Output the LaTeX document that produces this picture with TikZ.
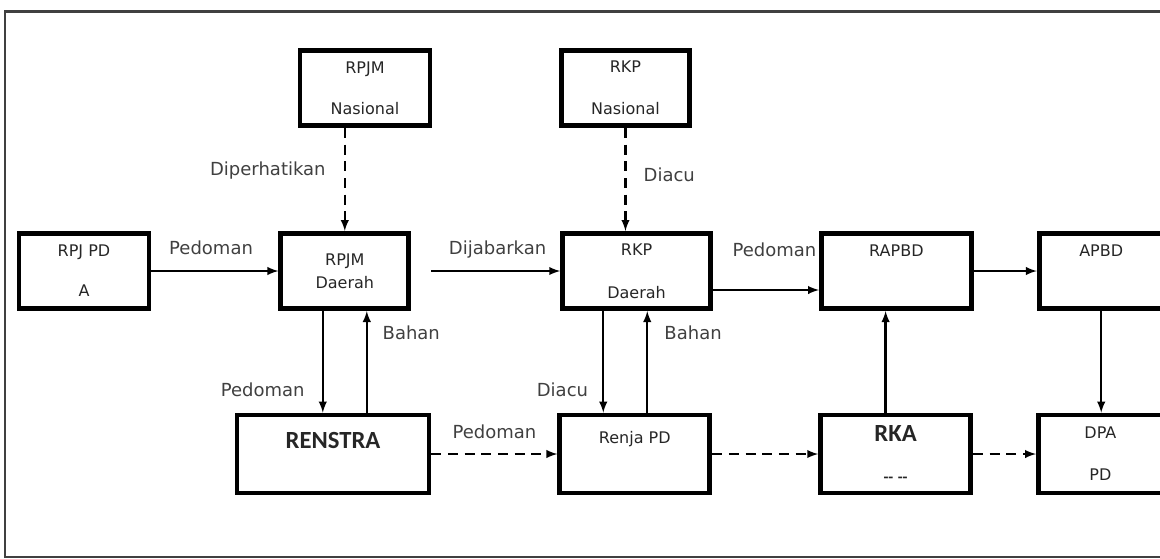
\documentclass[tikz,border=0pt]{standalone}
\usepackage{fontspec}
\setmainfont{DejaVu Sans}
\newfontfamily\calibrifont{Carlito}
\usetikzlibrary{positioning}

\begin{document}
\begin{tikzpicture}
  [x=0.75pt, y=-0.75pt,
  box/.style={
    draw,
    line width=3.6pt,
    minimum height=56.5pt,
    inner sep=0pt,
    text=black!85,
    font=\fontsize{12}{14.4}\selectfont
    },
  bigbox/.style={
    box,
    font=\calibrifont\bfseries\fontsize{18.5}{22}\selectfont
    },
  link/.style={-latex, line width=1.8pt},
  dlink/.style={link, dash pattern=on 7.5pt off 5pt},
  lbl/.style={
    font=\fontsize{13.5}{16}\selectfont,
    text=black!75,
    inner sep=0pt,
    text height=10pt,
    text depth=3pt
    }
  ]
  \useasboundingbox (0,0) rectangle (1160,558);
  \draw[line width=2.2pt, black!75] (5,11.5) rectangle (1185,557);

  % NASIONAL
  \node[box, minimum width=97.5pt, align=center] (rpjmn) at (365,88) {RPJM\\[16.5pt]Nasional};
  \node[box, minimum width=95.5pt, align=center, right=95.25pt of rpjmn] (rkpn) {RKP\\[17pt]Nasional};

  % DAERAH
  \node[box, minimum width=97.5pt, align=center] (rpjpd) at (84,271) {RPJ PD\\[15.5pt]A};
  \node[box, minimum width=96pt, align=center, right=95.25pt of rpjpd] (rpjmd) {RPJM\\[2.8pt]Daerah};
  \node[box, minimum width=111pt, align=center, right=111.75pt of rpjmd] (rkpd) {RKP\\[17.8pt]Daerah};
  \node[box, minimum width=112.5pt, text depth=30pt, right=79.5pt of rkpd] (rapbd) {RAPBD};
  \node[box, minimum width=93pt, text depth=30pt, right=47.25pt of rapbd] (apbd) {APBD};

  % PERANGKAT DAERAH
  \node[bigbox, minimum width=144pt, minimum height=58.5pt, text depth=21pt] (renstra) at (333,454) {RENSTRA};
  \node[box, minimum width=112.5pt, minimum height=58.5pt, text depth=25.5pt, right=94.5pt of renstra] (renja) {Renja PD};
  \node[bigbox, minimum width=112.5pt, minimum height=58.5pt, align=center, right=79.5pt of renja] (rka)
    {RKA\\[9pt]{\fontsize{12}{14.4}\selectfont --\;--}};
  \node[box, minimum width=93pt, minimum height=58.5pt, align=center, right=47.25pt of rka] (dpa) {DPA\\[17pt]PD};

  % ARROWS
  \draw[dlink] (rpjmn.south -| rpjmd.north) -- node[lbl, left=13.5pt, pos=0.42] {Diperhatikan} (rpjmd.north);
  \draw[dlink] (rkpn.south) -- node[lbl, right=12.75pt, pos=0.47] {Diacu} (rkpn.south |- rkpd.north);

  \draw[link] (rpjpd.east) -- node[lbl, above=8.75pt, pos=0.47] {Pedoman} (rpjpd.east -| rpjmd.west);
  \draw[link, shorten <=15pt] (rpjmd.east |- rkpd.west) -- node[lbl, above=8.75pt, pos=0.58] {Dijabarkan} (rkpd.west);
  \draw[link] ([yshift=-14.25pt]rkpd.east) -- node[lbl, above=21.5pt, pos=0.58] {Pedoman} ([yshift=-14.25pt]rkpd.east -| rapbd.west);
  \draw[link] (rapbd) -- (apbd);

  \draw[link] ([xshift=-16.5pt]rpjmd.south) -- node[lbl, left=12.75pt, pos=0.8] {Pedoman} ([xshift=-16.5pt]rpjmd.south |- renstra.north);
  \draw[link] ([xshift=16.5pt]rpjmd.south |- renstra.north) -- node[lbl, right=11pt, pos=0.77] {Bahan} ([xshift=16.5pt]rpjmd.south);
  \draw[link] ([xshift=-25pt]rkpd.south) -- node[lbl, left=10.5pt, pos=0.8] {Diacu} ([xshift=-25pt]rkpd.south |- renja.north);
  \draw[link] ([xshift=8pt]rkpd.south |- renja.north) -- node[lbl, right=12pt, pos=0.77] {Bahan} ([xshift=8pt]rkpd.south);

  \draw[dlink] (renstra) -- node[lbl, above=8pt] {Pedoman} (renja);
  \draw[dlink] (renja) -- (rka);
  \draw[dlink] (rka) -- (dpa);
  \draw[link] ([xshift=-7.5pt]rka.north) -- ([xshift=-7.5pt]rka.north |- rapbd.south);
  \draw[link] (apbd.south) -- (apbd.south |- dpa.north);
\end{tikzpicture}
\end{document}
